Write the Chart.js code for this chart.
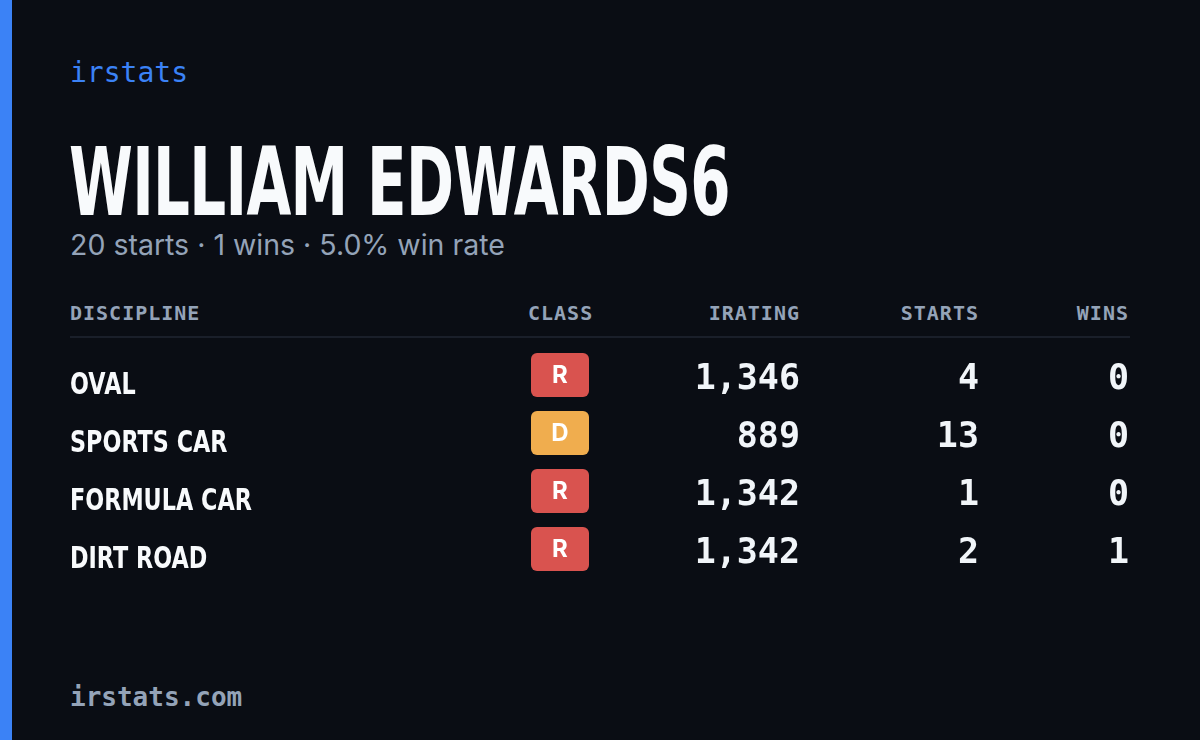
<!DOCTYPE html>
<html><head><meta charset="utf-8">
<script src="https://cdn.jsdelivr.net/npm/chart.js@4"></script>
<style>
html,body{margin:0;padding:0;width:1200px;height:740px;background:#0a0d14;overflow:hidden;font-family:Inter,sans-serif}
#strip{position:absolute;left:0;top:0;width:12px;height:740px;background:#3b82f6}
.t{position:absolute;white-space:nowrap}
#brand{left:70px;top:56px;font:500 28px 'DejaVu Sans Mono',monospace;color:#3b82f6}
#title{left:69px;top:128px;font:bold 94px 'DejaVu Sans',sans-serif;font-stretch:condensed;color:#f8fafc;letter-spacing:-1px;transform:scaleX(0.685);transform-origin:left}
#sub{left:70px;top:227px;font:400 28.5px Inter,sans-serif;color:#94a3b8}
.h{top:301px;font:600 20px 'DejaVu Sans Mono',monospace;color:#94a3b8;letter-spacing:1px}
#line{position:absolute;left:70px;top:336px;width:1060px;height:2px;background:#1a1f2a}
#foot{left:70px;top:682px;font:600 26px 'DejaVu Sans Mono',monospace;color:#94a3b8}
#c{position:absolute;left:70px;top:346px}
</style></head><body>
<div id="strip"></div>
<div class="t" id="brand">irstats</div>
<div class="t" id="title">WILLIAM EDWARDS6</div>
<div class="t" id="sub">20 starts · 1 wins · 5.0% win rate</div>
<div class="t h" style="left:70px">DISCIPLINE</div>
<div class="t h" style="left:528px">CLASS</div>
<div class="t h" style="right:400px">IRATING</div>
<div class="t h" style="right:221px">STARTS</div>
<div class="t h" style="right:71px">WINS</div>
<div id="line"></div>
<div class="t" id="foot">irstats.com</div>
<canvas id="c" width="1060" height="232" style="width:1060px;height:232px"></canvas>
<script>
const disciplines=["OVAL","SPORTS CAR","FORMULA CAR","DIRT ROAD"];
const classes=["R","D","R","R"];
const iratings=[1346,889,1342,1342];
const starts=[4,13,1,2];
const wins=[0,0,0,1];
const classColors={R:"#d9534f",D:"#f0ad4e"};

const tablePlugin={id:'tbl',afterDatasetsDraw(chart){
  const ctx=chart.ctx, y=chart.scales.y;
  ctx.save();
  disciplines.forEach((d,i)=>{
    const py=y.getPixelForValue(i);
    ctx.save();
    ctx.fillStyle="#f8fafc";ctx.font="bold 31px 'DejaVu Sans',sans-serif";ctx.textAlign="left";ctx.textBaseline="middle";
    ctx.scale(0.72,1);ctx.fillText(y.getLabelForValue(i),0,py+11);
    ctx.restore();
    const bx=490, w=58, h=44;
    ctx.fillStyle=classColors[classes[i]];
    ctx.beginPath();ctx.roundRect(bx-w/2,py-h/2,w,h,6);ctx.fill();
    ctx.fillStyle="#fff";ctx.font="bold 24px Inter,sans-serif";ctx.textAlign="center";ctx.textBaseline="middle";
    ctx.fillText(classes[i],bx,py+1);
    ctx.fillStyle="#f1f5f9";ctx.font="bold 35px 'DejaVu Sans Mono',monospace";ctx.textAlign="right";
    ctx.fillText(iratings[i].toLocaleString('en-US'),730,py+5);
    ctx.fillText(String(starts[i]),909,py+5);
    ctx.fillText(String(wins[i]),1059,py+5);
  });
  ctx.restore();
}};

new Chart(document.getElementById('c'),{
  type:'bar',
  data:{labels:disciplines,datasets:[{data:iratings,backgroundColor:'transparent'}]},
  options:{indexAxis:'y',responsive:false,animation:false,devicePixelRatio:1,
    plugins:{legend:{display:false},tooltip:{enabled:false}},
    layout:{padding:0},
    scales:{
      x:{display:false,min:0,max:2000},
      y:{offset:true,grid:{display:false},border:{display:false},
        afterFit(s){s.width=400;},
        ticks:{display:false}}
    }},
  plugins:[tablePlugin]
});
</script></body></html>
